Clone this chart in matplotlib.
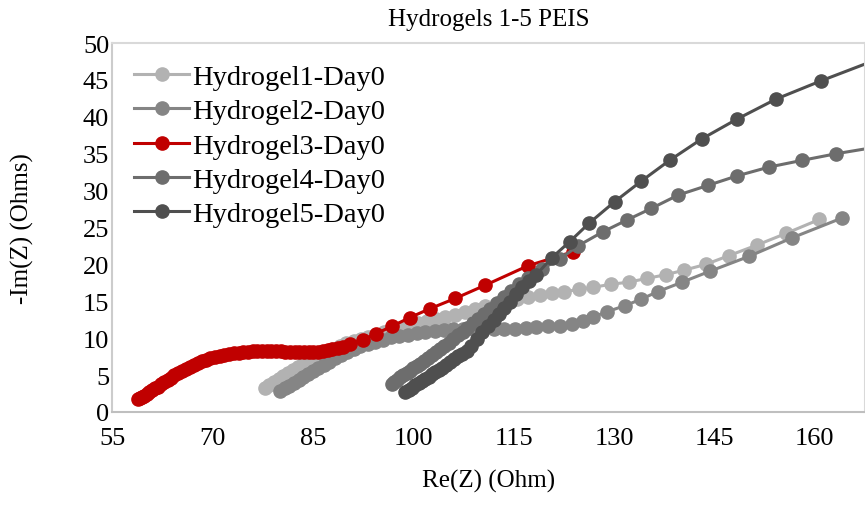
import numpy as np
import matplotlib.pyplot as plt

plt.rcParams['font.family'] = ['Liberation Serif', 'DejaVu Serif']

# Nyquist data (Re(Z), -Im(Z)) for each hydrogel, day 0
re_1 = [77.8, 78.5, 79.2, 79.9, 80.6, 81.3, 82.0, 82.8, 83.6, 84.4, 85.2, 86.1, 87.0, 88.0,
        89.0, 90.0, 91.1, 92.2, 93.3, 94.5, 95.7, 96.9, 98.1, 99.4, 100.7, 102.0, 103.4,
        104.8, 106.2, 107.7, 109.2, 110.7, 112.3, 113.9, 115.5, 117.2, 118.9, 120.8, 122.6,
        124.7, 126.9, 129.5, 132.2, 134.9, 137.7, 140.4, 143.7, 147.2, 151.3, 155.7, 160.7]
im_1 = [3.3, 3.7, 4.1, 4.5, 4.9, 5.3, 5.7, 6.1, 6.5, 6.9, 7.3, 7.7, 8.1, 8.5,
        8.9, 9.3, 9.6, 9.9, 10.2, 10.5, 10.8, 11.1, 11.4, 11.7, 12.0, 12.3, 12.6,
        12.9, 13.2, 13.5, 13.9, 14.3, 14.7, 15.0, 15.3, 15.6, 15.8, 16.1, 16.3,
        16.6, 16.9, 17.3, 17.6, 18.1, 18.6, 19.2, 20.0, 21.2, 22.6, 24.2, 26.1]

re_2 = [80.1, 80.8, 81.5, 82.2, 82.9, 83.6, 84.3, 85.0, 85.8, 86.6, 87.4, 88.3, 89.2, 90.1,
        91.1, 92.1, 93.2, 94.3, 95.5, 96.7, 97.9, 99.2, 100.5, 101.8, 103.2, 104.6, 106.0,
        107.5, 109.0, 110.5, 112.0, 113.6, 115.2, 116.8, 118.4, 120.1, 121.9, 123.7, 125.3,
        126.9, 129.0, 131.6, 134.1, 136.5, 140.2, 144.4, 150.2, 156.6, 164.1]
im_2 = [2.9, 3.2, 3.5, 3.9, 4.3, 4.7, 5.1, 5.5, 5.9, 6.4, 6.8, 7.3, 7.7, 8.1,
        8.5, 8.9, 9.2, 9.5, 9.8, 10.1, 10.3, 10.5, 10.7, 10.9, 11.0, 11.1, 11.2,
        11.2, 11.2, 11.2, 11.2, 11.2, 11.3, 11.4, 11.5, 11.6, 11.7, 11.9, 12.3,
        12.9, 13.6, 14.4, 15.3, 16.3, 17.6, 19.1, 21.1, 23.6, 26.3]

re_3 = [58.9, 59.2, 59.5, 59.8, 60.2, 60.6, 61.0, 61.4, 61.8, 62.3, 62.8, 63.3, 63.8, 64.3,
        64.8, 65.4, 66.0, 66.6, 67.2, 67.8, 68.4, 69.0, 69.7, 70.4, 71.1, 71.8, 72.5, 73.2,
        73.9, 74.6, 75.3, 76.0, 76.7, 77.4, 78.1, 78.8, 79.5, 80.2, 80.9, 81.6, 82.3, 83.0,
        83.7, 84.4, 85.1, 85.8, 86.5, 87.2, 87.9, 88.7, 89.5, 90.5, 92.5, 94.4, 96.8, 99.5,
        102.5, 106.3, 110.8, 117.1, 123.8]
im_3 = [1.7, 1.85, 2.0, 2.2, 2.45, 2.7, 2.95, 3.2, 3.45, 3.75, 4.05, 4.35, 4.65, 4.95,
        5.25, 5.55, 5.85, 6.15, 6.4, 6.65, 6.85, 7.05, 7.25, 7.45, 7.6, 7.75, 7.85, 7.95,
        8.05, 8.1, 8.15, 8.2, 8.22, 8.25, 8.25, 8.25, 8.22, 8.2, 8.17, 8.15, 8.12, 8.1,
        8.1, 8.1, 8.12, 8.18, 8.25, 8.35, 8.5, 8.65, 8.85, 9.2, 9.8, 10.6, 11.6, 12.8,
        14.0, 15.4, 17.2, 19.8, 21.7]

re_4 = [96.8, 97.2, 97.6, 98.0, 98.5, 99.0, 99.5, 100.0, 100.5, 101.0, 101.6, 102.2, 102.8,
        103.4, 104.0, 104.6, 105.3, 106.0, 106.7, 107.4, 108.1, 108.9, 109.7, 110.6, 111.5,
        112.5, 113.5, 114.6, 115.8, 117.1, 119.3, 122.0, 124.6, 128.3, 131.9, 135.6, 139.6,
        144.0, 148.4, 153.2, 158.1, 163.2, 168.5]
im_4 = [3.8, 4.1, 4.4, 4.7, 5.0, 5.3, 5.6, 5.9, 6.2, 6.5, 6.9, 7.3, 7.7,
        8.1, 8.5, 8.9, 9.4, 9.9, 10.4, 10.9, 11.4, 12.0, 12.6, 13.3, 14.0,
        14.8, 15.6, 16.4, 17.3, 18.2, 19.4, 20.8, 22.5, 24.4, 26.0, 27.6, 29.4,
        30.7, 32.0, 33.2, 34.1, 35.0, 35.8]

re_5 = [98.8, 99.3, 99.8, 100.3, 100.8, 101.3, 101.8, 102.3, 102.8, 103.3, 103.8, 104.3,
        104.9, 105.5, 106.1, 106.7, 107.3, 108.0, 108.7, 109.5, 110.3, 111.1, 112.0, 112.8,
        113.6, 114.4, 115.3, 116.2, 117.3, 118.4, 120.7, 123.4, 126.3, 130.1, 134.1, 138.3,
        143.1, 148.4, 154.2, 161.0, 168.5]
im_5 = [2.7, 3.0, 3.3, 3.6, 3.9, 4.2, 4.5, 4.8, 5.1, 5.4, 5.7, 6.0,
        6.4, 6.8, 7.2, 7.6, 7.9, 8.3, 9.0, 9.9, 10.8, 11.7, 12.5, 13.3,
        14.1, 14.9, 16.0, 17.0, 17.8, 18.6, 20.9, 23.1, 25.6, 28.5, 31.3, 34.1,
        37.0, 39.7, 42.4, 44.9, 47.5]

labels = ['Hydrogel1-Day0', 'Hydrogel2-Day0', 'Hydrogel3-Day0', 'Hydrogel4-Day0', 'Hydrogel5-Day0']
colors = ['#b2b2b2', '#858585', '#c00000', '#6d6d6d', '#4f4f4f']
xticks = [55, 70, 85, 100, 115, 130, 145, 160]
yticks = [0, 5, 10, 15, 20, 25, 30, 35, 40, 45, 50]

fig = plt.figure(figsize=(8.65, 5.06), dpi=100)
ax = fig.add_axes([0.1295, 0.1838, 0.8705, 0.7292])

series = [(re_1, im_1), (re_2, im_2), (re_3, im_3), (re_4, im_4), (re_5, im_5)]
for (x, y), lab, c in zip(series, labels, colors):
    ax.plot(x, y, '-o', color=c, lw=2.2, ms=9.5, label=lab)

ax.set_xlim(55, 167.5)
ax.set_ylim(0, 50)
ax.set_xticks(xticks)
ax.set_yticks(yticks)
ax.tick_params(length=0, labelsize=19)
ax.tick_params(axis='x', pad=11)
ax.tick_params(axis='y', pad=2)
for s in ax.spines.values():
    s.set_color('#d9d9d9')
    s.set_linewidth(1.5)
ax.spines['bottom'].set_color('#bfbfbf')
ax.spines['left'].set_color('#cccccc')

ax.set_title('Hydrogels 1-5 PEIS', fontsize=18, pad=13)
ax.set_xlabel('Re(Z) (Ohm)', fontsize=18, labelpad=14)
ax.set_ylabel('-Im(Z) (Ohms)', fontsize=18, labelpad=35)

ax.legend(loc='upper left', frameon=False, fontsize=20.5, handlelength=1.95,
          handletextpad=0.08, labelspacing=0.3, borderaxespad=0.0,
          bbox_to_anchor=(0.014, 0.975))

fig.savefig('out.png', dpi=100)
